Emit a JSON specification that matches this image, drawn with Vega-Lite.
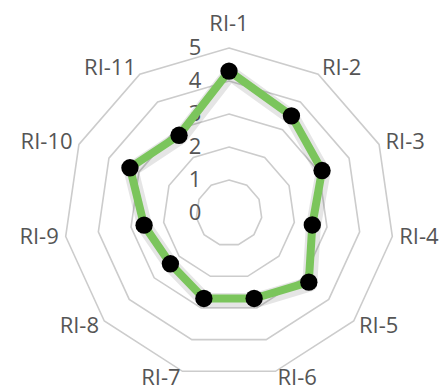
{
  "$schema": "https://vega.github.io/schema/vega-lite/v6.json",
  "width": 442,
  "height": 390,
  "autosize": "none",
  "padding": 0,
  "background": "white",
  "config": {"view": {"stroke": null}},
  "datasets": {
    "scores": [
      {"axis": "RI-1", "idx": 0, "value": 4.3},
      {"axis": "RI-2", "idx": 1, "value": 3.5},
      {"axis": "RI-3", "idx": 2, "value": 3.1},
      {"axis": "RI-4", "idx": 3, "value": 2.55},
      {"axis": "RI-5", "idx": 4, "value": 3.2},
      {"axis": "RI-6", "idx": 5, "value": 2.7},
      {"axis": "RI-7", "idx": 6, "value": 2.7},
      {"axis": "RI-8", "idx": 7, "value": 2.35},
      {"axis": "RI-9", "idx": 8, "value": 2.6},
      {"axis": "RI-10", "idx": 9, "value": 3.3},
      {"axis": "RI-11", "idx": 10, "value": 2.8}
    ],
    "rings": [
      {"level": 1, "k": [0,1,2,3,4,5,6,7,8,9,10]},
      {"level": 2, "k": [0,1,2,3,4,5,6,7,8,9,10]},
      {"level": 3, "k": [0,1,2,3,4,5,6,7,8,9,10]},
      {"level": 4, "k": [0,1,2,3,4,5,6,7,8,9,10]},
      {"level": 5, "k": [0,1,2,3,4,5,6,7,8,9,10]}
    ],
    "ticks": [
      {"level": 0, "label": "0"},
      {"level": 1, "label": "1"},
      {"level": 2, "label": "2"},
      {"level": 3, "label": "3"},
      {"level": 4, "label": "4"},
      {"level": 5, "label": "5"}
    ]
  },
  "layer": [
    {
      "data": {"name": "rings"},
      "transform": [
        {"flatten": ["k"]},
        {"calculate": "datum.level * sin(2 * PI * datum.k / 11)", "as": "px"},
        {"calculate": "datum.level * cos(2 * PI * datum.k / 11)", "as": "py"}
      ],
      "mark": {"type": "line", "interpolate": "linear-closed", "stroke": "#cccccc", "strokeWidth": 1.6},
      "encoding": {
        "x": {"field": "px", "type": "quantitative", "scale": {"domain": [-6.94, 6.455], "nice": false, "zero": false}, "axis": null},
        "y": {"field": "py", "type": "quantitative", "scale": {"domain": [-5.364, 6.455], "nice": false, "zero": false}, "axis": null},
        "detail": {"field": "level", "type": "nominal"},
        "order": {"field": "k", "type": "quantitative"}
      }
    },
    {
      "data": {"name": "ticks"},
      "transform": [
        {"calculate": "-1.03", "as": "px"}
      ],
      "mark": {"type": "text", "font": "Open Sans", "fontSize": 22, "fill": "#555555", "align": "center", "baseline": "middle"},
      "encoding": {
        "x": {"field": "px", "type": "quantitative", "scale": {"domain": [-6.94, 6.455], "nice": false, "zero": false}, "axis": null},
        "y": {"field": "level", "type": "quantitative", "scale": {"domain": [-5.364, 6.455], "nice": false, "zero": false}, "axis": null},
        "text": {"field": "label", "type": "nominal"}
      }
    },
    {
      "data": {"name": "scores"},
      "transform": [
        {"calculate": "datum.value * sin(2 * PI * datum.idx / 11)", "as": "px"},
        {"calculate": "datum.value * cos(2 * PI * datum.idx / 11)", "as": "py"}
      ],
      "layer": [
        {
          "mark": {"type": "line", "interpolate": "linear-closed", "stroke": "#000000", "strokeOpacity": 0.1, "strokeWidth": 15, "xOffset": 1, "yOffset": 2, "strokeJoin": "round"},
          "encoding": {
            "x": {"field": "px", "type": "quantitative", "scale": {"domain": [-6.94, 6.455], "nice": false, "zero": false}, "axis": null},
            "y": {"field": "py", "type": "quantitative", "scale": {"domain": [-5.364, 6.455], "nice": false, "zero": false}, "axis": null},
            "order": {"field": "idx", "type": "quantitative"}
          }
        },
        {
          "mark": {"type": "line", "interpolate": "linear-closed", "stroke": "#7bc55c", "strokeWidth": 8, "strokeJoin": "round"},
          "encoding": {
            "x": {"field": "px", "type": "quantitative", "scale": {"domain": [-6.94, 6.455], "nice": false, "zero": false}, "axis": null},
            "y": {"field": "py", "type": "quantitative", "scale": {"domain": [-5.364, 6.455], "nice": false, "zero": false}, "axis": null},
            "order": {"field": "idx", "type": "quantitative"}
          }
        },
        {
          "mark": {"type": "point", "shape": "circle", "filled": true, "fill": "#000000", "fillOpacity": 1, "size": 300, "strokeWidth": 0},
          "encoding": {
            "x": {"field": "px", "type": "quantitative", "scale": {"domain": [-6.94, 6.455], "nice": false, "zero": false}, "axis": null},
            "y": {"field": "py", "type": "quantitative", "scale": {"domain": [-5.364, 6.455], "nice": false, "zero": false}, "axis": null}
          }
        }
      ]
    },
    {
      "data": {"name": "scores"},
      "transform": [
        {"filter": "datum.idx == 0"},
        {"calculate": "0", "as": "px"},
        {"calculate": "5.515", "as": "py"}
      ],
      "mark": {"type": "text", "font": "Open Sans", "fontSize": 22, "fill": "#555555", "align": "center", "baseline": "alphabetic"},
      "encoding": {
        "x": {"field": "px", "type": "quantitative", "scale": {"domain": [-6.94, 6.455], "nice": false, "zero": false}, "axis": null},
        "y": {"field": "py", "type": "quantitative", "scale": {"domain": [-5.364, 6.455], "nice": false, "zero": false}, "axis": null},
        "text": {"field": "axis", "type": "nominal"}
      }
    },
    {
      "data": {"name": "scores"},
      "transform": [
        {"filter": "datum.idx >= 1 && datum.idx <= 5"},
        {"calculate": "5.212 * sin(2 * PI * datum.idx / 11)", "as": "px"},
        {"calculate": "5.212 * cos(2 * PI * datum.idx / 11)", "as": "py"}
      ],
      "mark": {"type": "text", "font": "Open Sans", "fontSize": 22, "fill": "#555555", "align": "left", "baseline": "middle"},
      "encoding": {
        "x": {"field": "px", "type": "quantitative", "scale": {"domain": [-6.94, 6.455], "nice": false, "zero": false}, "axis": null},
        "y": {"field": "py", "type": "quantitative", "scale": {"domain": [-5.364, 6.455], "nice": false, "zero": false}, "axis": null},
        "text": {"field": "axis", "type": "nominal"}
      }
    },
    {
      "data": {"name": "scores"},
      "transform": [
        {"filter": "datum.idx >= 6"},
        {"calculate": "5.212 * sin(2 * PI * datum.idx / 11)", "as": "px"},
        {"calculate": "5.212 * cos(2 * PI * datum.idx / 11)", "as": "py"}
      ],
      "mark": {"type": "text", "font": "Open Sans", "fontSize": 22, "fill": "#555555", "align": "right", "baseline": "middle"},
      "encoding": {
        "x": {"field": "px", "type": "quantitative", "scale": {"domain": [-6.94, 6.455], "nice": false, "zero": false}, "axis": null},
        "y": {"field": "py", "type": "quantitative", "scale": {"domain": [-5.364, 6.455], "nice": false, "zero": false}, "axis": null},
        "text": {"field": "axis", "type": "nominal"}
      }
    }
  ]
}
